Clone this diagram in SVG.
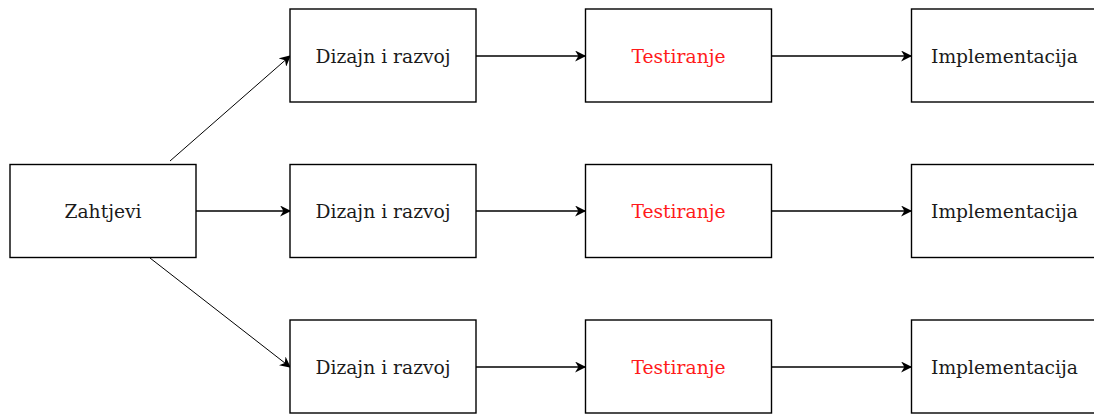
<svg xmlns="http://www.w3.org/2000/svg" width="1094" height="416" viewBox="0 0 1094 416">
<style>
.box{fill:#fff;stroke:#000;stroke-width:1.4}
.t{font-family:"DejaVu Serif",serif;font-size:18.7px;text-anchor:middle;dominant-baseline:central;fill:#1a1a1a}
.red{fill:#ff1a1a}
.c{stroke:#000;stroke-width:1.5;fill:none;marker-end:url(#ah)}
.d{stroke:#000;stroke-width:1;fill:none;marker-end:url(#ah)}
</style>
<defs>
<marker id="ah" viewBox="0 0 10 10" refX="9" refY="5" markerWidth="12" markerHeight="11" markerUnits="userSpaceOnUse" orient="auto">
<path d="M0,0 L10,5 L0,10 L3,5 Z" fill="#000"/>
</marker>
</defs>
<rect width="1094" height="416" fill="#fff"/>
<g id="connectors">
<path class="d" d="M170,161 L290,56"/>
<path class="c" d="M196,211 L290,211"/>
<path class="d" d="M150,258 L290,367"/>
<path class="c" d="M476,56 L585,56"/>
<path class="c" d="M476,211 L585,211"/>
<path class="c" d="M476,367 L585,367"/>
<path class="c" d="M772,56 L911,56"/>
<path class="c" d="M772,211 L911,211"/>
<path class="c" d="M772,367 L911,367"/>
</g>
<g id="zahtjevi"><rect class="box" x="10" y="164.5" width="186" height="93"/><text class="t" x="103" y="211">Zahtjevi</text></g>
<g id="dizajn1"><rect class="box" x="290" y="9" width="186" height="93"/><text class="t" x="383" y="56">Dizajn i razvoj</text></g>
<g id="dizajn2"><rect class="box" x="290" y="164.5" width="186" height="93"/><text class="t" x="383" y="211">Dizajn i razvoj</text></g>
<g id="dizajn3"><rect class="box" x="290" y="320" width="186" height="93"/><text class="t" x="383" y="367">Dizajn i razvoj</text></g>
<g id="test1"><rect class="box" x="585.5" y="9" width="186" height="93"/><text class="t red" x="678.5" y="56">Testiranje</text></g>
<g id="test2"><rect class="box" x="585.5" y="164.5" width="186" height="93"/><text class="t red" x="678.5" y="211">Testiranje</text></g>
<g id="test3"><rect class="box" x="585.5" y="320" width="186" height="93"/><text class="t red" x="678.5" y="367">Testiranje</text></g>
<g id="impl1"><rect class="box" x="911.5" y="9" width="186" height="93"/><text class="t" x="1004.5" y="56">Implementacija</text></g>
<g id="impl2"><rect class="box" x="911.5" y="164.5" width="186" height="93"/><text class="t" x="1004.5" y="211">Implementacija</text></g>
<g id="impl3"><rect class="box" x="911.5" y="320" width="186" height="93"/><text class="t" x="1004.5" y="367">Implementacija</text></g>
</svg>
